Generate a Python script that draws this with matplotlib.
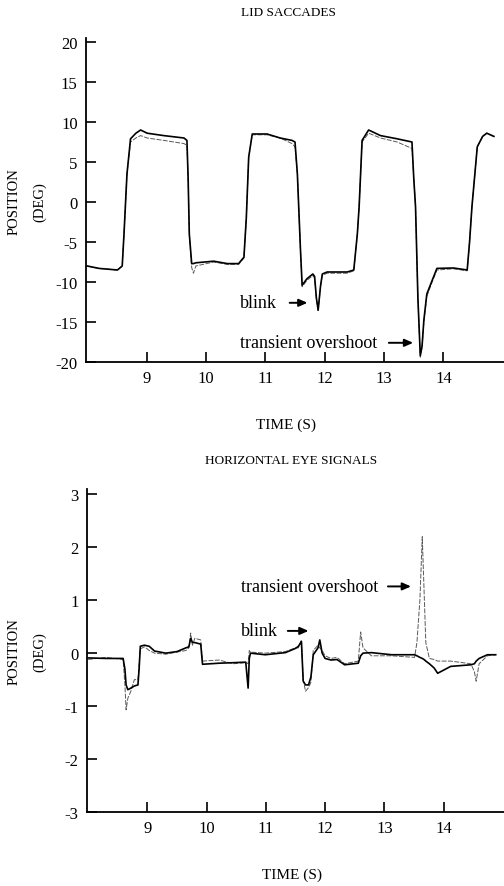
import matplotlib
matplotlib.use("Agg")
import matplotlib.pyplot as plt

plt.rcParams['font.family'] = ['Liberation Serif', 'DejaVu Serif']

# lid position traces (deg) vs time (s)
lid_t = [8.00, 8.20, 8.51, 8.59, 8.62, 8.67, 8.73, 8.82, 8.90, 9.01, 9.29, 9.63,
         9.68, 9.70, 9.72, 9.76, 9.79, 9.83, 10.13, 10.36, 10.55, 10.64, 10.68,
         10.72, 10.78, 11.03, 11.25, 11.45, 11.50, 11.54, 11.59, 11.62, 11.70,
         11.80, 11.83, 11.86, 11.89, 11.93, 11.96, 12.04, 12.38, 12.49, 12.55,
         12.58, 12.63, 12.74, 12.94, 13.22, 13.47, 13.50, 13.53, 13.57, 13.61,
         13.64, 13.67, 13.72, 13.81, 13.89, 14.17, 14.40, 14.44, 14.48, 14.57,
         14.66, 14.73, 14.85]
lid_solid = [-8.0, -8.3, -8.5, -8.0, -4.0, 3.5, 7.9, 8.6, 9.0, 8.6, 8.3, 8.0,
             7.7, 3.0, -4.0, -7.7, -7.7, -7.6, -7.4, -7.7, -7.7, -6.9, -2.0,
             5.6, 8.5, 8.5, 8.0, 7.7, 7.5, 3.5, -5.6, -10.4, -9.6,
             -9.0, -9.3, -12.0, -13.5, -10.5, -9.0, -8.75, -8.75, -8.5, -4.0,
             -0.6, 7.7, 9.0, 8.3, 7.9, 7.5, 3.0, -0.6, -12.0, -19.2,
             -18.0, -14.8, -11.5, -9.8, -8.3, -8.25, -8.5, -5.0, -0.6, 6.9,
             8.2, 8.6, 8.2]
lid_dashed = [-8.0, -8.3, -8.5, -8.0, -4.0, 3.5, 7.5, 8.0, 8.3, 8.0, 7.7, 7.3,
              7.1, 3.0, -4.0, -8.2, -8.9, -8.0, -7.5, -7.8, -7.8, -7.0, -2.0,
              5.6, 8.4, 8.4, 8.0, 7.3, 6.9, 3.5, -5.6, -10.6, -9.8,
              -9.2, -9.5, -12.2, -13.7, -10.6, -9.2, -8.9, -8.9, -8.6, -4.0,
              -0.6, 7.5, 8.6, 8.0, 7.5, 6.7, 3.0, -0.6, -12.2, -19.4,
              -18.2, -15.0, -11.8, -10.0, -8.5, -8.35, -8.6, -5.0, -0.6, 6.9,
              8.2, 8.6, 8.2]

# horizontal eye position traces (deg) vs time (s)
eye_t = [8.00, 8.30, 8.59, 8.62, 8.64, 8.67, 8.72, 8.78, 8.84, 8.86, 8.88, 8.95,
         9.03, 9.12, 9.31, 9.50, 9.65, 9.70, 9.73, 9.76, 9.80, 9.90, 9.93, 10.21,
         10.45, 10.66, 10.70, 10.72, 10.74, 10.99, 11.33, 11.50, 11.55, 11.60,
         11.63, 11.67, 11.72, 11.76, 11.80, 11.88, 11.91, 11.95, 12.00, 12.10,
         12.20, 12.33, 12.56, 12.60, 12.64, 12.78, 13.12, 13.51, 13.55, 13.60,
         13.64, 13.67, 13.70, 13.76, 13.84, 13.90, 14.12, 14.46, 14.52, 14.55,
         14.60, 14.74, 14.88]
eye_solid = [-0.09, -0.10, -0.10, -0.30, -0.60, -0.69, -0.66, -0.62, -0.60, -0.30, 0.13, 0.15,
             0.13, 0.04, 0.00, 0.03, 0.10, 0.12, 0.28, 0.20, 0.20, 0.17, -0.21, -0.19,
             -0.18, -0.17, -0.66, -0.10, 0.00, -0.03, 0.01, 0.09, 0.13, 0.22,
             -0.53, -0.60, -0.60, -0.45, -0.03, 0.10, 0.25, 0.00, -0.10, -0.13,
             -0.12, -0.22, -0.19, -0.05, 0.00, 0.01, -0.03, -0.03, -0.05, -0.08,
             -0.10, -0.12, -0.15, -0.20, -0.28, -0.38, -0.25, -0.22, -0.20, -0.15,
             -0.10, -0.03, -0.03]
eye_dashed = [-0.12, -0.08, -0.12, -0.60, -1.07, -0.85, -0.72, -0.50, -0.50, -0.20, 0.08, 0.12,
              0.05, 0.00, -0.02, 0.02, 0.05, 0.10, 0.38, 0.15, 0.28, 0.25, -0.15, -0.13,
              -0.20, -0.18, -0.20, 0.05, 0.02, 0.00, 0.03, 0.10, 0.10, 0.25,
              -0.50, -0.72, -0.65, -0.55, 0.05, 0.15, 0.10, 0.05, -0.05, -0.10,
              -0.08, -0.20, -0.15, 0.40, 0.10, -0.05, -0.05, -0.08, 0.20, 1.00,
              2.20, 1.20, 0.20, -0.10, -0.12, -0.15, -0.15, -0.20, -0.35, -0.53,
              -0.20, -0.05, -0.03]

lid_yticks = [-20, -15, -10, -5, 0, 5, 10, 15, 20]
eye_yticks = [-3, -2, -1, 0, 1, 2, 3]
time_ticks = [9, 10, 11, 12, 13, 14]

W, H = 504, 887
fig = plt.figure(figsize=(W / 100, H / 100), dpi=100)


def px_axes(left, top, right, bottom):
    return fig.add_axes([left / W, 1 - bottom / H, (right - left) / W, (bottom - top) / H])


def style(ax, yticks):
    for s in ['top', 'right']:
        ax.spines[s].set_visible(False)
    for s in ['left', 'bottom']:
        ax.spines[s].set_linewidth(1.3)
    ax.set_xticks(time_ticks)
    ax.set_yticks(yticks)
    ax.set_yticklabels([str(v) for v in yticks])
    ax.tick_params(direction='in', length=7, width=1.2, labelsize=12, pad=6)
    ax.set_xlim(7.98, 15.02)


def arrow(ax, tail, tip):
    ax.annotate('', xy=tip, xytext=tail,
                arrowprops=dict(arrowstyle='-|>,head_length=0.5,head_width=0.22',
                                color='black', lw=1.4, shrinkA=0, shrinkB=0))


# top panel: lid saccades
ax1 = px_axes(86, 39, 504, 363)
ax1.plot(lid_t, lid_dashed, color='0.35', lw=0.7, ls=(0, (5, 1.5)))
ax1.plot(lid_t, lid_solid, color='black', lw=1.2)
style(ax1, lid_yticks)
ax1.set_ylim(-20, 20.5)
ax1.text(10.58, -12.6, 'blink', fontsize=13, va='center', ha='left')
arrow(ax1, (11.41, -12.6), (11.71, -12.6))
ax1.text(10.58, -17.6, 'transient overshoot', fontsize=13, va='center', ha='left')
arrow(ax1, (13.08, -17.6), (13.49, -17.6))

# bottom panel: horizontal eye signals
ax2 = px_axes(87, 490, 504, 813)
ax2.plot(eye_t, eye_dashed, color='0.35', lw=0.7, ls=(0, (5, 1.5)))
ax2.plot(eye_t, eye_solid, color='black', lw=1.2)
style(ax2, eye_yticks)
ax2.set_ylim(-3, 3.1)
ax2.text(10.58, 0.42, 'blink', fontsize=13, va='center', ha='left')
arrow(ax2, (11.37, 0.42), (11.72, 0.42))
ax2.text(10.58, 1.26, 'transient overshoot', fontsize=13, va='center', ha='left')
arrow(ax2, (13.06, 1.26), (13.45, 1.26))


# titles and axis labels (small caps style)
def ftext(x, y, s, **kw):
    fig.text(x / W, 1 - y / H, s, ha='center', va='center', **kw)


ftext(288, 13, 'LID SACCADES', fontsize=9.5)
ftext(291, 461, 'HORIZONTAL EYE SIGNALS', fontsize=9.5)
ftext(286, 425, 'TIME (S)', fontsize=11)
ftext(292, 875, 'TIME (S)', fontsize=11)
for yc in (202, 652):
    ftext(14, yc, 'POSITION', fontsize=10.5, rotation=90)
    ftext(40, yc, '(DEG)', fontsize=10.5, rotation=90)

fig.savefig('out.png', dpi=100)
